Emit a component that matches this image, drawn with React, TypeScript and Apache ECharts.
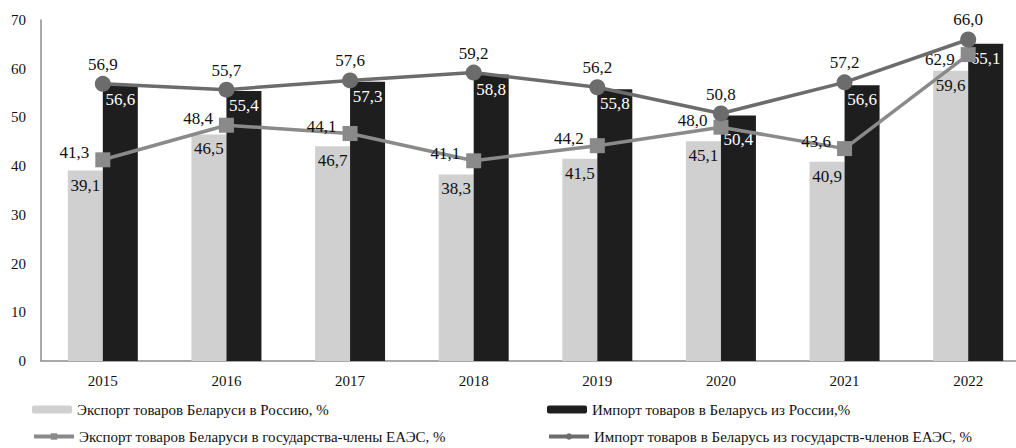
import React, { useEffect, useRef } from "react";
import * as echarts from "echarts";

const years = ["2015", "2016", "2017", "2018", "2019", "2020", "2021", "2022"];
const exportRussia = [39.1, 46.5, 44.1, 38.3, 41.5, 45.1, 40.9, 59.6];
const exportRussiaLabels = ["39,1", "46,5", "46,7", "38,3", "41,5", "45,1", "40,9", "59,6"];
const importRussia = [56.6, 55.4, 57.3, 58.8, 55.8, 50.4, 56.6, 65.1];
const exportEaeu = [41.3, 48.4, 46.7, 41.1, 44.2, 48.0, 43.6, 62.9];
const exportEaeuLabels = ["41,3", "48,4", "44,1", "41,1", "44,2", "48,0", "43,6", "62,9"];
const importEaeu = [56.9, 55.7, 57.6, 59.2, 56.2, 50.8, 57.2, 66.0];
const yTicks = { min: 0, max: 70, interval: 10 };

const names = {
  expRu: "Экспорт товаров Беларуси в Россию, %",
  impRu: "Импорт товаров в Беларусь из России,%",
  expEa: "Экспорт товаров Беларуси в государства-члены ЕАЭС, %",
  impEa: "Импорт товаров в Беларусь из государств-членов ЕАЭС, %",
};

const FONT = "'Liberation Serif', 'Times New Roman', serif";
const fmt = (v: number) => v.toFixed(1).replace(".", ",");

export default function App() {
  const ref = useRef<HTMLDivElement>(null);
  useEffect(() => {
    if (!ref.current) return;
    const chart = echarts.init(ref.current, undefined, { renderer: "svg" });
    const legendText = { fontFamily: FONT, fontSize: 15, color: "#111" };
    const legendBase = {
      padding: 0,
      itemWidth: 40,
      itemHeight: 8,
      textStyle: legendText,
      lineStyle: { width: 4 },
    };
    const importRussiaData = importRussia.map((v, i) =>
      i === 5 ? { value: v, label: { offset: [0, 10] } } : v
    );
    const exportEaeuData = exportEaeu.map((v, i) =>
      i === 7 ? { value: v, label: { offset: [0, 5] } } : v
    );
    chart.setOption({
      animation: false,
      backgroundColor: "#ffffff",
      textStyle: { fontFamily: FONT },
      grid: { left: 41, top: 20, bottom: 87, width: 989 },
      legend: [
        { ...legendBase, data: [names.expRu], left: 32, top: 402 },
        { ...legendBase, data: [names.impRu], left: 547, top: 402 },
        { ...legendBase, data: [names.expEa], left: 32, top: 429 },
        { ...legendBase, data: [names.impEa], left: 547, top: 429 },
      ],
      xAxis: {
        type: "category",
        data: years,
        axisLine: { lineStyle: { color: "#8c8c8c", width: 1.5 } },
        axisTick: { show: false },
        axisLabel: { fontFamily: FONT, fontSize: 15, color: "#111", margin: 12 },
      },
      yAxis: {
        type: "value",
        min: yTicks.min,
        max: yTicks.max,
        interval: yTicks.interval,
        axisLine: { show: true, lineStyle: { color: "#8c8c8c", width: 1.5 } },
        axisTick: { show: false },
        splitLine: { show: false },
        axisLabel: { fontFamily: FONT, fontSize: 15, color: "#111", margin: 15 },
      },
      series: [
        {
          name: names.expRu,
          type: "bar",
          data: exportRussia,
          barWidth: 35,
          barGap: "0%",
          itemStyle: { color: "#d0d0d0" },
          label: {
            show: true,
            position: "insideTop",
            distance: 6,
            fontFamily: FONT,
            fontSize: 17,
            color: "#111",
            formatter: (p: any) => exportRussiaLabels[p.dataIndex],
          },
          z: 1,
        },
        {
          name: names.impRu,
          type: "bar",
          data: importRussiaData,
          barWidth: 35,
          barGap: "0%",
          itemStyle: { color: "#1e1e1e" },
          label: {
            show: true,
            position: "insideTop",
            distance: 6,
            fontFamily: FONT,
            fontSize: 17,
            color: "#ffffff",
            formatter: (p: any) => fmt(Number(p.value)),
          },
          z: 1,
        },
        {
          name: names.expEa,
          type: "line",
          data: exportEaeuData,
          symbol: "rect",
          symbolSize: 15,
          itemStyle: { color: "#8a8a8a" },
          lineStyle: { color: "#8a8a8a", width: 3.5 },
          label: {
            show: true,
            position: "left",
            distance: 6,
            offset: [0, -7],
            fontFamily: FONT,
            fontSize: 17,
            color: "#111",
            formatter: (p: any) => exportEaeuLabels[p.dataIndex],
          },
          z: 3,
        },
        {
          name: names.impEa,
          type: "line",
          data: importEaeu,
          symbol: "circle",
          symbolSize: 16,
          itemStyle: { color: "#6c6c6c" },
          lineStyle: { color: "#6c6c6c", width: 3.5 },
          label: {
            show: true,
            position: "top",
            distance: 3,
            fontFamily: FONT,
            fontSize: 17,
            color: "#111",
            formatter: (p: any) => fmt(Number(p.value)),
          },
          z: 4,
        },
      ],
    });
    return () => chart.dispose();
  }, []);
  return (
    <div
      style={{
        position: "fixed",
        left: 0,
        top: 0,
        width: 1016,
        height: 448,
        overflow: "hidden",
        background: "#fff",
      }}
    >
      <div ref={ref} style={{ width: 1030, height: 448 }} />
    </div>
  );
}
